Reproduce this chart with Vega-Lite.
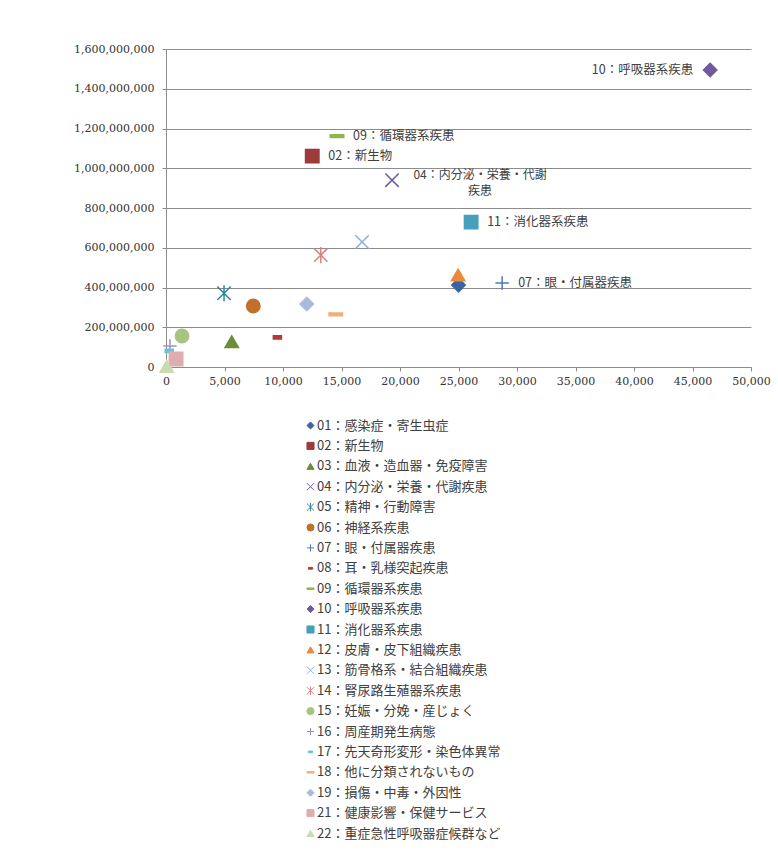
{
  "$schema": "https://vega.github.io/schema/vega-lite/v6.json",
  "width": 585,
  "height": 318,
  "autosize": {"type": "none"},
  "padding": {"left": 166, "top": 49, "right": 27, "bottom": 484},
  "background": "white",
  "config": {
    "view": {"stroke": null},
    "axis": {
      "title": null,
      "labelFont": "DejaVu Serif",
      "labelFontSize": 11,
      "labelColor": "#333333",
      "labelFlush": false,
      "labelOverlap": false,
      "domainColor": "#8c8c8c",
      "tickColor": "#8c8c8c",
      "tickSize": 4,
      "gridColor": "#8c8c8c",
      "gridWidth": 1
    },
    "legend": {
      "orient": "none",
      "legendX": 138,
      "legendY": 370,
      "direction": "vertical",
      "padding": 0,
      "labelFont": "Noto Sans CJK JP",
      "labelFontSize": 13,
      "labelColor": "#404040",
      "labelLimit": 0,
      "labelOffset": 0,
      "symbolSize": 50,
      "symbolStrokeWidth": 1,
      "rowPadding": 6.4
    }
  },
  "data": {
    "values": [
      {"series": "01：感染症・寄生虫症", "x": 25000, "y": 412000000},
      {"series": "02：新生物", "x": 12500, "y": 1061000000, "label": "02：新生物"},
      {"series": "03：血液・造血器・免疫障害", "x": 5620, "y": 127000000},
      {"series": "04：内分泌・栄養・代謝疾患", "x": 19320, "y": 940000000, "label": "04：内分泌・栄養・代謝\n疾患"},
      {"series": "05：精神・行動障害", "x": 4960, "y": 371000000},
      {"series": "06：神経系疾患", "x": 7460, "y": 307000000},
      {"series": "07：眼・付属器疾患", "x": 28730, "y": 423000000, "label": "07：眼・付属器疾患"},
      {"series": "08：耳・乳様突起疾患", "x": 9520, "y": 149000000},
      {"series": "09：循環器系疾患", "x": 14620, "y": 1162000000, "label": "09：循環器系疾患"},
      {"series": "10：呼吸器系疾患", "x": 46510, "y": 1494000000, "label": "10：呼吸器系疾患"},
      {"series": "11：消化器系疾患", "x": 26080, "y": 729000000, "label": "11：消化器系疾患"},
      {"series": "12：皮膚・皮下組織疾患", "x": 24970, "y": 463000000},
      {"series": "13：筋骨格系・結合組織疾患", "x": 16760, "y": 629000000},
      {"series": "14：腎尿路生殖器系疾患", "x": 13230, "y": 563000000},
      {"series": "15：妊娠・分娩・産じょく", "x": 1370, "y": 156000000},
      {"series": "16：周産期発生病態", "x": 340, "y": 106000000},
      {"series": "17：先天奇形変形・染色体異常", "x": 280, "y": 81000000},
      {"series": "18：他に分類されないもの", "x": 14510, "y": 265000000},
      {"series": "19：損傷・中毒・外因性", "x": 12030, "y": 317000000},
      {"series": "21：健康影響・保健サービス", "x": 860, "y": 40000000},
      {"series": "22：重症急性呼吸器症候群など", "x": 60, "y": 3000000}
    ]
  },
  "encoding": {
    "x": {
      "field": "x",
      "type": "quantitative",
      "scale": {"domain": [0, 50000], "nice": false, "zero": true},
      "axis": {
        "values": [0, 5000, 10000, 15000, 20000, 25000, 30000, 35000, 40000, 45000, 50000],
        "format": ",.0f",
        "grid": false,
        "labelPadding": 4
      }
    },
    "y": {
      "field": "y",
      "type": "quantitative",
      "scale": {"domain": [0, 1600000000], "nice": false},
      "axis": {
        "values": [0, 200000000, 400000000, 600000000, 800000000, 1000000000, 1200000000, 1400000000, 1600000000],
        "format": ",.0f",
        "grid": true,
        "labelPadding": 8
      }
    }
  },
  "layer": [
    {
      "mark": {"type": "point", "opacity": 1, "size": 180, "strokeWidth": 1.5},
      "encoding": {
        "fill": {
          "field": "series",
          "type": "nominal",
          "title": null,
          "scale": {
            "domain": ["01：感染症・寄生虫症", "02：新生物", "03：血液・造血器・免疫障害", "04：内分泌・栄養・代謝疾患", "05：精神・行動障害", "06：神経系疾患", "07：眼・付属器疾患", "08：耳・乳様突起疾患", "09：循環器系疾患", "10：呼吸器系疾患", "11：消化器系疾患", "12：皮膚・皮下組織疾患", "13：筋骨格系・結合組織疾患", "14：腎尿路生殖器系疾患", "15：妊娠・分娩・産じょく", "16：周産期発生病態", "17：先天奇形変形・染色体異常", "18：他に分類されないもの", "19：損傷・中毒・外因性", "21：健康影響・保健サービス", "22：重症急性呼吸器症候群など"],
            "range": ["#3c64a0", "#9b3b3a", "#6a8e36", "#6e5a9a", "#2e86a0", "#c0702a", "#4a7ab8", "#b33a38", "#8fb550", "#6e5a9e", "#45a0bc", "#ec8a3c", "#8eacda", "#d98080", "#a8c480", "#a090c8", "#6cc0d8", "#f6ac78", "#a9badc", "#dcaeb0", "#c8dcb0"]
          }
        },
        "stroke": {
          "field": "series",
          "type": "nominal",
          "title": null,
          "scale": {
            "domain": ["01：感染症・寄生虫症", "02：新生物", "03：血液・造血器・免疫障害", "04：内分泌・栄養・代謝疾患", "05：精神・行動障害", "06：神経系疾患", "07：眼・付属器疾患", "08：耳・乳様突起疾患", "09：循環器系疾患", "10：呼吸器系疾患", "11：消化器系疾患", "12：皮膚・皮下組織疾患", "13：筋骨格系・結合組織疾患", "14：腎尿路生殖器系疾患", "15：妊娠・分娩・産じょく", "16：周産期発生病態", "17：先天奇形変形・染色体異常", "18：他に分類されないもの", "19：損傷・中毒・外因性", "21：健康影響・保健サービス", "22：重症急性呼吸器症候群など"],
            "range": ["#3c64a0", "#9b3b3a", "#6a8e36", "#6e5a9a", "#2e86a0", "#c0702a", "#4a7ab8", "#b33a38", "#8fb550", "#6e5a9e", "#45a0bc", "#ec8a3c", "#8eacda", "#d98080", "#a8c480", "#a090c8", "#6cc0d8", "#f6ac78", "#a9badc", "#dcaeb0", "#c8dcb0"]
          }
        },
        "shape": {
          "field": "series",
          "type": "nominal",
          "title": null,
          "scale": {
            "domain": ["01：感染症・寄生虫症", "02：新生物", "03：血液・造血器・免疫障害", "04：内分泌・栄養・代謝疾患", "05：精神・行動障害", "06：神経系疾患", "07：眼・付属器疾患", "08：耳・乳様突起疾患", "09：循環器系疾患", "10：呼吸器系疾患", "11：消化器系疾患", "12：皮膚・皮下組織疾患", "13：筋骨格系・結合組織疾患", "14：腎尿路生殖器系疾患", "15：妊娠・分娩・産じょく", "16：周産期発生病態", "17：先天奇形変形・染色体異常", "18：他に分類されないもの", "19：損傷・中毒・外因性", "21：健康影響・保健サービス", "22：重症急性呼吸器症候群など"],
            "range": [
              "diamond", "square", "triangle-up",
              "M-1,-1L1,1M-1,1L1,-1",
              "M-1,-1L1,1M-1,1L1,-1M0,-1.2L0,1.2",
              "circle",
              "M-1,0L1,0M0,-1L0,1",
              "M-0.6,-0.25L0.6,-0.25L0.6,0.25L-0.6,0.25Z",
              "M-1,-0.2L1,-0.2L1,0.2L-1,0.2Z",
              "diamond", "square", "triangle-up",
              "M-1,-1L1,1M-1,1L1,-1",
              "M-1,-1L1,1M-1,1L1,-1M0,-1.2L0,1.2",
              "circle",
              "M-1,0L1,0M0,-1L0,1",
              "M-0.6,-0.25L0.6,-0.25L0.6,0.25L-0.6,0.25Z",
              "M-1,-0.2L1,-0.2L1,0.2L-1,0.2Z",
              "diamond", "square", "triangle-up"
            ]
          }
        }
      }
    },
    {
      "transform": [{"filter": {"field": "series", "oneOf": ["02：新生物", "07：眼・付属器疾患", "09：循環器系疾患", "11：消化器系疾患"]}}],
      "mark": {"type": "text", "align": "left", "baseline": "middle", "dx": 16, "font": "Noto Sans CJK JP", "fontSize": 12.5, "color": "#404040"},
      "encoding": {"text": {"field": "label", "type": "nominal"}}
    },
    {
      "transform": [{"filter": {"field": "series", "equal": "10：呼吸器系疾患"}}],
      "mark": {"type": "text", "align": "right", "baseline": "middle", "dx": -17, "font": "Noto Sans CJK JP", "fontSize": 12.5, "color": "#404040"},
      "encoding": {"text": {"field": "label", "type": "nominal"}}
    },
    {
      "transform": [{"filter": {"field": "series", "equal": "04：内分泌・栄養・代謝疾患"}}],
      "mark": {"type": "text", "align": "center", "baseline": "middle", "dx": 88, "dy": -5, "lineBreak": "\n", "lineHeight": 16, "font": "Noto Sans CJK JP", "fontSize": 12, "color": "#404040"},
      "encoding": {"text": {"field": "label", "type": "nominal"}}
    }
  ]
}
